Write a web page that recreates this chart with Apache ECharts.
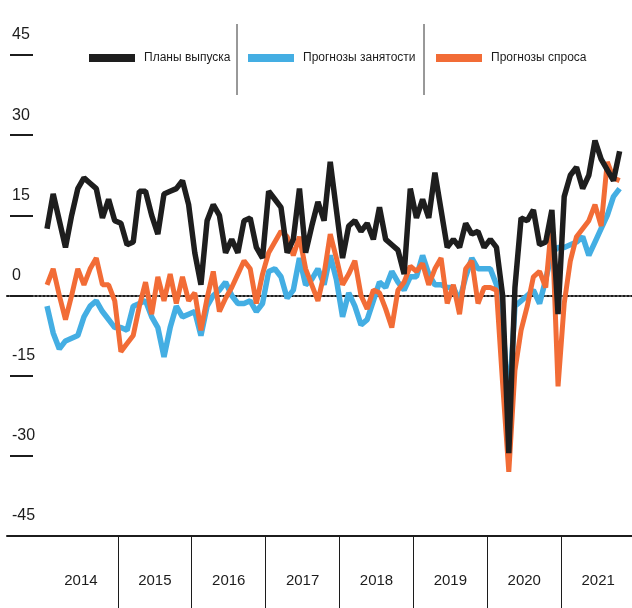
<!DOCTYPE html>
<html>
<head>
<meta charset="utf-8">
<script src="https://cdn.jsdelivr.net/npm/echarts@6/dist/echarts.min.js"></script>
<style>
html,body{margin:0;padding:0;background:#fff;}
#chart{width:632px;height:608px;}
</style>
</head>
<body>
<div id="chart"></div>
<script>
// ---- data (monthly, Jan 2014 .. Oct 2021) ----
const years = ['2014','2015','2016','2017','2018','2019','2020','2021'];
const yTicks = [-45, -30, -15, 0, 15, 30, 45];
const seriesNames = ['Планы выпуска', 'Прогнозы занятости', 'Прогнозы спроса'];

const outputPlans = [
  12.5, 19, 14, 9, 15, 20, 22, 21, 20, 14.5, 18, 14,
  13.5, 9.5, 10, 19.5, 19.5, 15, 11.5, 19, 19.5, 20, 21.5, 17,
  8, 2, 14, 17, 15, 8, 10.5, 8, 14, 14.5, 9, 7,
  19.5, 18, 16.5, 8, 10.5, 20, 8, 13, 17.5, 14, 25, 16,
  7, 13, 14, 12, 13.5, 10.5, 16.5, 10.5, 9.5, 8.5, 4, 20,
  14.5, 18, 14.5, 23, 16, 9, 10.5, 9, 13.5, 11.5, 12, 9,
  10.5, 9, 0, -29.5, 1.5, 14.5, 14, 16, 9.5, 10, 16, -3.5,
  18.5, 22.5, 24, 20, 22.5, 29, 25.5, 23.5, 21.5, 27
];
const employment = [
  -2, -7, -10, -8.5, -8, -7.5, -4, -2, -1, -3, -4.5, -6,
  -6, -6.5, -2, -1.5, -1, -4, -6, -11.5, -6, -2, -4, -3.5,
  -3, -7.5, -2, 0, 1, 2.5, 0, -1.5, -1.5, -1, -3, -1.5,
  4.5, 5, 3.5, -0.5, 1, 7, 2, 3, 5, 2, 7.5, 3,
  -4, 0.5, -2, -5.5, -4.5, -1, 2.5, 1.5, 4.5, 2.5, 1, 3.5,
  3.5, 7.5, 4, 2, 2, 1.5, 1.5, -1, 3.5, 7, 5, 5,
  5, 2, -5, -21, -2, -1, 0, 1, -1.5, 3, 8, 9,
  9, 9.5, 10, 11, 7.5, 10, 12.5, 15, 18.5, 20
];
const demand = [
  2, 5, 0, -4.5, 0, 5, 2, 5, 7, 2, 2, -1,
  -10.5, -9, -7.5, -2, 2.5, -3.5, 3.5, -1, 4, -1.5, 3.5, -1,
  0.5, -6.5, -0.5, 4.5, -3, -0.5, 1.5, 4, 6.5, 5, -1.5, 4,
  8, 10, 12, 11, 7.5, 11, 5, 2, -1, 4, 11.5, 7,
  2, 4, 6.5, 0, -2.5, 1, 0.5, -2.5, -6, 1, 2.5, 5.5,
  4.5, 6, 2, 5, 7, -1.5, 2, -3.5, 5, 6.5, -1.5, 1.5,
  1.5, 1, -16.5, -33, -14, -6.5, -2, 3.5, 4.5, 1.5, 14, -17,
  -1.5, 6.5, 11, 12.5, 14, 17, 13, 25, 22, 21.5
];

// ---- month categories (6 blank leading slots for the label area) ----
const lead = 6;
const months = [];
for (let k = 0; k < lead; k++) months.push('lead' + k);
years.forEach(y => { for (let m = 1; m <= 12; m++) months.push(y + '-' + String(m).padStart(2, '0')); });
const toPairs = arr => arr.map((v, i) => [months[lead + i], v]);

const FONT = '"Liberation Sans Narrow", "Liberation Sans", Arial, sans-serif';
const INK = '#1c1c1c';
const colors = { out: '#1e1e1e', emp: '#44aee3', dem: '#f26c36' };

const chart = echarts.init(document.getElementById('chart'), null, { renderer: 'canvas' });

function legendAt(name, left) {
  return {
    data: [name], left: left, top: 52, padding: 0, icon: 'rect', itemWidth: 46, itemHeight: 8,
    selectedMode: false,
    textStyle: { fontFamily: FONT, fontSize: 12, color: INK, padding: [0, 0, 0, 4] }
  };
}

chart.setOption({
  animation: false,
  backgroundColor: '#ffffff',
  grid: { left: 7, right: -3, top: 55, bottom: 72, outerBoundsMode: 'none', containLabel: false },
  legend: [
    legendAt(seriesNames[0], 89),
    legendAt(seriesNames[1], 248),
    legendAt(seriesNames[2], 436)
  ],
  xAxis: [
    {
      type: 'category', data: months, boundaryGap: true, position: 'bottom',
      axisLine: { show: true, onZero: true, lineStyle: { color: INK, width: 2, type: [2, 2] } },
      axisTick: { show: false }, axisLabel: { show: false }, splitLine: { show: false }
    },
    {
      type: 'category', data: months, boundaryGap: true, position: 'bottom',
      axisLine: { show: true, onZero: false, lineStyle: { color: INK, width: 2 } },
      axisTick: {
        show: true, length: 72, inside: false,
        interval: (i) => i > lead && (i - lead) % 12 === 0,
        lineStyle: { color: INK, width: 1 }
      },
      axisLabel: {
        show: true,
        interval: (i) => i >= lead && (i - lead) % 12 === 6,
        formatter: (v) => v.slice(0, 4),
        margin: 37, fontFamily: FONT, fontSize: 15, color: INK,
        padding: [0, 6, 0, 0]
      },
      splitLine: { show: false }
    }
  ],
  yAxis: {
    type: 'value', min: yTicks[0], max: yTicks[yTicks.length - 1], interval: yTicks[1] - yTicks[0],
    position: 'left', offset: -3,
    axisLine: { show: false },
    axisTick: { show: true, inside: true, length: 23, lineStyle: { color: INK, width: 2 } },
    axisLabel: {
      inside: true, margin: 2, align: 'left', verticalAlign: 'bottom', padding: [0, 0, 12, 0],
      fontFamily: FONT, fontSize: 16, color: INK
    },
    splitLine: { show: false }
  },
  graphic: [
    { type: 'line', shape: { x1: 237, y1: 24, x2: 237, y2: 95 }, style: { stroke: '#333', lineWidth: 1 }, silent: true },
    { type: 'line', shape: { x1: 424, y1: 24, x2: 424, y2: 95 }, style: { stroke: '#333', lineWidth: 1 }, silent: true }
  ],
  series: [
    {
      name: seriesNames[1], type: 'line', xAxisIndex: 0, data: toPairs(employment),
      symbol: 'none', lineStyle: { color: colors.emp, width: 5.5 }, itemStyle: { color: colors.emp }, z: 2
    },
    {
      name: seriesNames[2], type: 'line', xAxisIndex: 0, data: toPairs(demand),
      symbol: 'none', lineStyle: { color: colors.dem, width: 5 }, itemStyle: { color: colors.dem }, z: 3
    },
    {
      name: seriesNames[0], type: 'line', xAxisIndex: 0, data: toPairs(outputPlans),
      symbol: 'none', lineStyle: { color: colors.out, width: 5.5 }, itemStyle: { color: colors.out }, z: 4
    }
  ]
});
</script>
</body>
</html>
